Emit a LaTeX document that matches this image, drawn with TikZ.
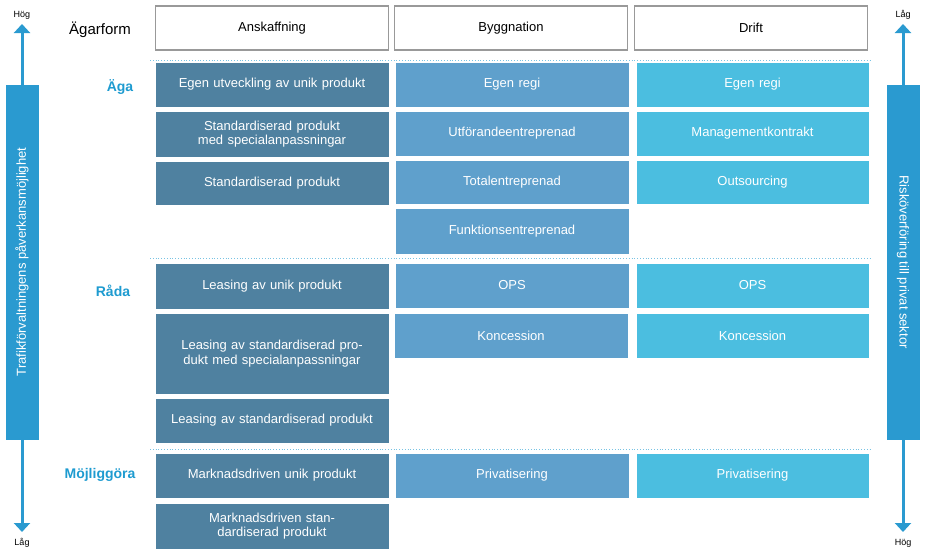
\documentclass[tikz,border=0pt]{standalone}
\usepackage{fontspec}
\setmainfont{Liberation Sans}
\usetikzlibrary{arrows.meta}
\definecolor{cA}{HTML}{4F81A0}
\definecolor{cB}{HTML}{5FA0CC}
\definecolor{cC}{HTML}{4BBEE0}
\definecolor{lab}{HTML}{1E9BD0}
\definecolor{arr}{HTML}{2A9AD0}
\tikzset{
 cell/.style={draw=white,line width=0.5pt,text=white,align=center,font=\fontsize{13}{14.5}\selectfont,inner sep=0pt},
 hdr/.style={draw=gray!80,line width=1.6pt,fill=white,font=\fontsize{13}{15}\selectfont},
 side/.style={fill=arr,text=white,font=\fontsize{13}{15}\selectfont,inner sep=0pt},
 rowlab/.style={text=lab,font=\bfseries\fontsize{14}{16}\selectfont},
 sep/.style={draw=lab!60,dotted,line width=0.8pt},
 big/.style={draw=arr,line width=3pt,{Triangle[length=9pt,width=16pt]}-{Triangle[length=9pt,width=16pt]}},
 small/.style={font=\fontsize{9}{10}\selectfont}
}
\newcommand{\cellbox}[6]{\node[cell,fill=#1,minimum width=#3-#2,minimum height=#5-#4,text width=#3-#2-6] (#6) at ({(#2+#3)/2},{(#4+#5)/2})}
\begin{document}
\begin{tikzpicture}[x=1pt,y=-1pt]
\useasboundingbox (0,0) rectangle (926,557);
% headers
\node[hdr,minimum width=233,minimum height=44] (hA) at (272,28) {Anskaffning};
\node[hdr,minimum width=233,minimum height=44] (hB) at (511,28) {Byggnation};
\node[hdr,minimum width=233,minimum height=44] (hC) at (751,28) {Drift};
\node[font=\fontsize{15}{17}\selectfont] (ag) at (100,30) {Ägarform};
% separators
\coordinate (s1a) at (150,60); \coordinate (s1b) at (870,60);
\coordinate (s2a) at (150,258); \coordinate (s2b) at (870,258);
\coordinate (s3a) at (150,449); \coordinate (s3b) at (870,449);
\draw[sep] (s1a)--(s1b); \draw[sep] (s2a)--(s2b); \draw[sep] (s3a)--(s3b);
% row labels
\node[rowlab] (l1) at (120,87) {Äga};
\node[rowlab] (l2) at (113,291) {Råda};
\node[rowlab] (l3) at (100,475) {Möjliggöra};
% column A
\cellbox{cA}{155}{389}{62}{107}{a1} {Egen utveckling av unik produkt};
\cellbox{cA}{155}{389}{111}{157}{a2} {Standardiserad produkt med specialanpassningar};
\cellbox{cA}{155}{389}{161}{205}{a3} {Standardiserad produkt};
\cellbox{cA}{155}{389}{263}{309}{a4} {Leasing av unik produkt};
\cellbox{cA}{155}{389}{313}{394}{a5} {Leasing av standardiserad produkt med specialanpassningar};
\cellbox{cA}{155}{389}{398}{443}{a6} {Leasing av standardiserad produkt};
\cellbox{cA}{155}{389}{453}{498}{a7} {Marknadsdriven unik produkt};
\cellbox{cA}{155}{389}{503}{549}{a8} {Marknadsdriven standardiserad produkt};
% column B
\cellbox{cB}{395}{629}{62}{107}{b1} {Egen regi};
\cellbox{cB}{395}{629}{111}{156}{b2} {Utförandeentreprenad};
\cellbox{cB}{395}{629}{160}{204}{b3} {Totalentreprenad};
\cellbox{cB}{395}{629}{208}{254}{b4} {Funktionsentreprenad};
\cellbox{cB}{395}{629}{263}{308}{b5} {OPS};
\cellbox{cB}{394}{628}{313}{358}{b6} {Koncession};
\cellbox{cB}{395}{629}{453}{498}{b7} {Privatisering};
% column C
\cellbox{cC}{636}{869}{62}{107}{c1} {Egen regi};
\cellbox{cC}{636}{869}{111}{156}{c2} {Managementkontrakt};
\cellbox{cC}{636}{869}{160}{204}{c3} {Outsourcing};
\cellbox{cC}{636}{869}{263}{308}{c5} {OPS};
\cellbox{cC}{636}{869}{313}{358}{c6} {Koncession};
\cellbox{cC}{636}{869}{453}{498}{c7} {Privatisering};
% left arrow
\node[small] (lh) at (22,15) {Hög};
\node[small] (ll) at (22,543) {Låg};
\coordinate (lt) at (22,24); \coordinate (lb) at (22,532);
\draw[big] (lt)--(lb);
\node[side,minimum width=33,minimum height=355] (lbox) at (22,262) {};
\node[side,rotate=90] (ltext) at (22,262) {Trafikförvaltningens påverkansmöjlighet};
% right arrow
\node[small] (rl) at (903,15) {Låg};
\node[small] (rh) at (903,543) {Hög};
\coordinate (rt) at (903,24); \coordinate (rb) at (903,532);
\draw[big] (rt)--(rb);
\node[side,minimum width=33,minimum height=355] (rbox) at (903,262) {};
\node[side,rotate=-90] (rtext) at (903,262) {Risköverföring till privat sektor};
\end{tikzpicture}
\end{document}
